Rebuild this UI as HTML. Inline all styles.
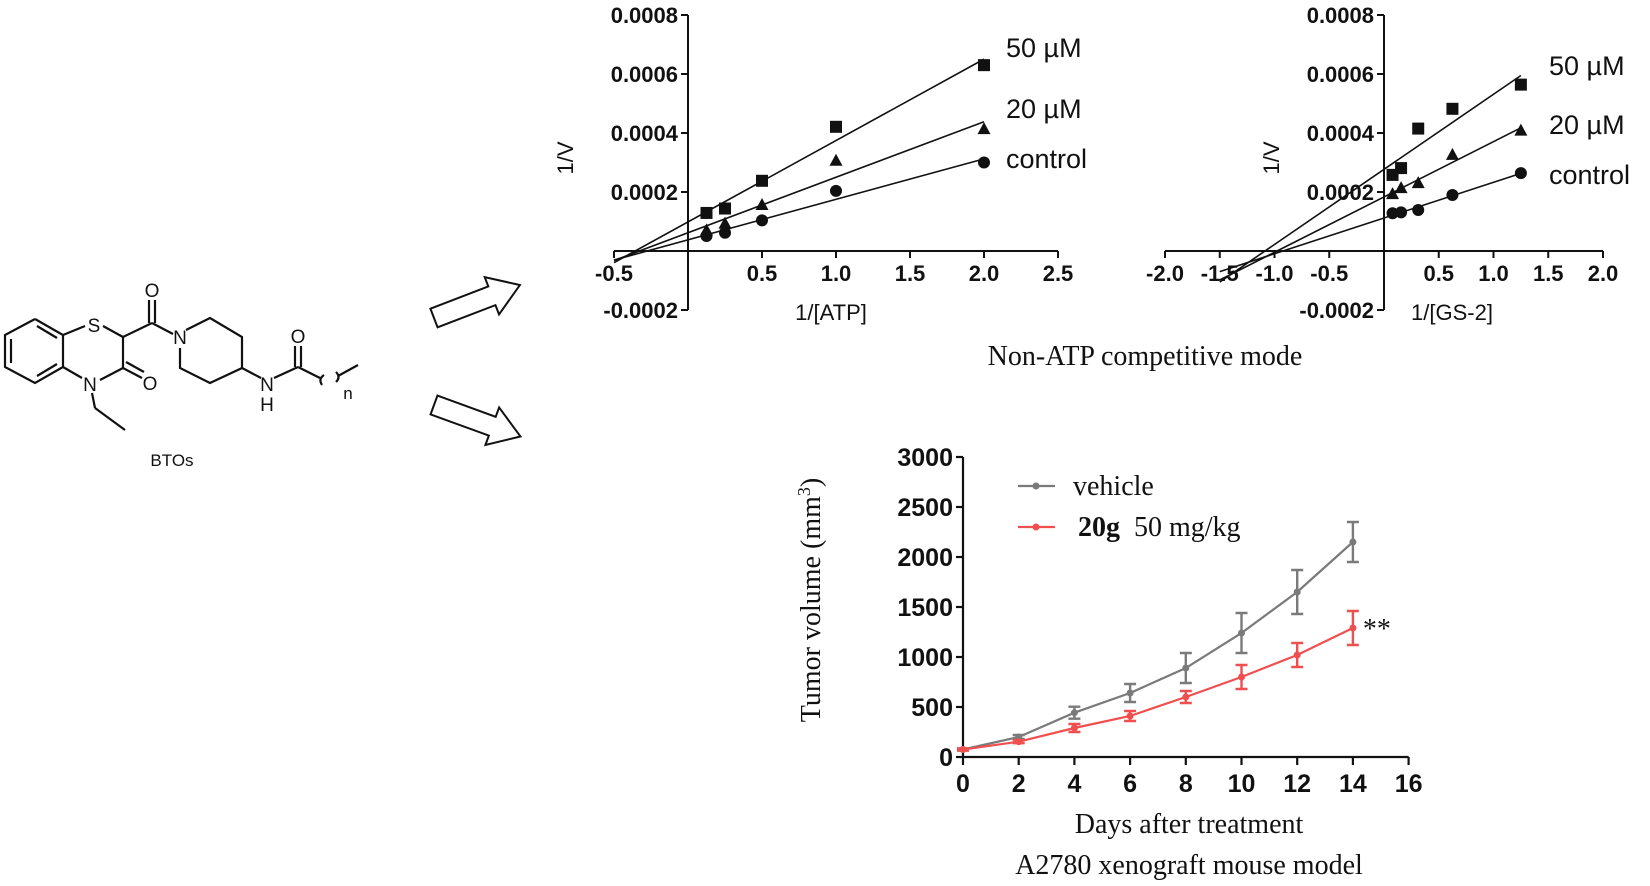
<!DOCTYPE html>
<html><head><meta charset="utf-8"><style>
html,body{margin:0;padding:0;background:#fff}
svg{display:block}
.tk{font-family:"Liberation Sans",Arial,sans-serif;font-weight:bold;font-size:22px;fill:#111}
.lb{font-family:"Liberation Sans",Arial,sans-serif;font-size:22px;fill:#111}
.lg{font-family:"Liberation Sans",Arial,sans-serif;font-size:27px;fill:#111}
.tm{font-family:"Liberation Serif","Times New Roman",serif;font-size:28px;fill:#111}
.at{font-family:"Liberation Sans",Arial,sans-serif;font-size:19px;fill:#111}
</style></head><body>
<svg id="root" width="1650" height="886" viewBox="0 0 1650 886" xmlns="http://www.w3.org/2000/svg">
<g stroke="#111" stroke-width="2.2" fill="none">
  <polyline points="35,319 63,335 63,367 35,383 5,367 5,335 35,319"/>
  <line x1="11" y1="339" x2="11" y2="363"/><line x1="37" y1="326" x2="57" y2="338"/><line x1="37" y1="376" x2="57" y2="364"/>
  <line x1="63" y1="335" x2="85" y2="326"/><line x1="103" y1="326" x2="123" y2="337"/>
  <line x1="123" y1="337" x2="123" y2="368"/><line x1="123" y1="368" x2="100" y2="380"/>
  <line x1="63" y1="367" x2="82" y2="378"/>
  <line x1="123" y1="368" x2="142" y2="378"/><line x1="126" y1="362" x2="144" y2="372"/>
  <line x1="123" y1="337" x2="152" y2="323"/><line x1="149" y1="323" x2="149" y2="300"/><line x1="155" y1="323" x2="155" y2="300"/>
  <line x1="152" y1="323" x2="173" y2="334"/>
  <polyline points="186,330 210,318 242,337 242,368 210,383 180,368 180,348"/>
  <line x1="242" y1="368" x2="261" y2="378"/>
  <line x1="274" y1="378" x2="298" y2="367"/>
  <line x1="295" y1="367" x2="295" y2="346"/><line x1="301" y1="367" x2="301" y2="346"/>
  <line x1="298" y1="367" x2="320" y2="378"/>
  <path d="M322,385 q-4,-6 2,-10"/><path d="M336,372 q5,5 0,10"/>
  <line x1="338" y1="376" x2="358" y2="365"/>
  <line x1="92" y1="393" x2="95" y2="408"/><line x1="95" y1="408" x2="125" y2="430"/>
</g>
<g font-family="Liberation Sans,Arial,sans-serif" font-size="19" fill="#111" text-anchor="middle">
  <text x="94" y="332">S</text><text x="90" y="391">N</text><text x="150" y="390">O</text>
  <text x="152" y="297">O</text><text x="180" y="344">N</text><text x="267" y="391">N</text>
  <text x="267" y="411">H</text><text x="298" y="343">O</text><text x="348" y="399" font-size="17">n</text>
  <text x="172" y="466" font-size="17">BTOs</text>
</g>
<g transform="translate(434,318) rotate(-21)">
  <polygon points="0,-10 62,-10 62,-20 92,0 62,20 62,10 0,10" fill="#fff" stroke="#111" stroke-width="2"/>
</g>
<g transform="translate(434,405) rotate(20)">
  <polygon points="0,-10 62,-10 62,-20 92,0 62,20 62,10 0,10" fill="#fff" stroke="#111" stroke-width="2"/>
</g>
<g id="c1"></g>
<g id="c2"></g>
<text class="tm" x="1145" y="365" text-anchor="middle">Non-ATP competitive mode</text>
<g id="c3"></g>
</svg>
<script>
// ---- Chart 1 data (1/[ATP]) ----
const atpX = [0.125, 0.25, 0.5, 1.0, 2.0];
const atp50 = [0.000129, 0.000144, 0.000238, 0.000421, 0.00063];
const atp20 = [0.00007, 0.000093, 0.000156, 0.000306, 0.000413];
const atpCtrl = [0.000051, 0.000062, 0.000104, 0.000204, 0.0003];
const atpXTicks = [-0.5, 0.5, 1.0, 1.5, 2.0, 2.5];
const atpXTickLabels = ["-0.5", "0.5", "1.0", "1.5", "2.0", "2.5"];
// ---- Chart 2 data (1/[GS-2]) ----
const gsX = [0.078, 0.156, 0.3125, 0.625, 1.25];
const gs50 = [0.000258, 0.000281, 0.000415, 0.000482, 0.000564];
const gs20 = [0.000193, 0.000213, 0.00023, 0.000326, 0.000408];
const gsCtrl = [0.000128, 0.000131, 0.000139, 0.00019, 0.000264];
const gsXTicks = [-2.0, -1.5, -1.0, -0.5, 0.5, 1.0, 1.5, 2.0];
const gsXTickLabels = ["-2.0", "-1.5", "-1.0", "-0.5", "0.5", "1.0", "1.5", "2.0"];
const vYTicks = [-0.0002, 0.0002, 0.0004, 0.0006, 0.0008];
const vYTickLabels = ["-0.0002", "0.0002", "0.0004", "0.0006", "0.0008"];
const seriesNames = ["50 µM", "20 µM", "control"];
// ---- Chart 3 data ----
const days = [0, 2, 4, 6, 8, 10, 12, 14];
const vehicleMean = [75, 200, 443, 640, 890, 1240, 1650, 2150];
const vehicleErr = [10, 20, 60, 90, 150, 200, 220, 200];
const drugMean = [75, 153, 290, 410, 600, 800, 1020, 1290];
const drugErr = [10, 15, 40, 50, 60, 120, 120, 170];
const dayTicks = [0, 2, 4, 6, 8, 10, 12, 14, 16];
const volTicks = [0, 500, 1000, 1500, 2000, 2500, 3000];

const NS = "http://www.w3.org/2000/svg";
function mk(parent, tag, attrs, txt) {
  const e = document.createElementNS(NS, tag);
  for (const k in attrs) e.setAttribute(k, attrs[k]);
  if (txt !== undefined) e.textContent = txt;
  parent.appendChild(e);
  return e;
}
function fit(xs, ys) {
  const n = xs.length, mx = xs.reduce((a, b) => a + b) / n, my = ys.reduce((a, b) => a + b) / n;
  let sxy = 0, sxx = 0;
  for (let i = 0; i < n; i++) { sxy += (xs[i] - mx) * (ys[i] - my); sxx += (xs[i] - mx) ** 2; }
  const m = sxy / sxx; return [m, my - m * mx];
}
function marker(g, kind, x, y) {
  let e;
  if (kind === 0) e = mk(g, "rect", {x: x - 6, y: y - 6, width: 12, height: 12, fill: "#111"});
  else if (kind === 1) e = mk(g, "polygon", {points: `${x},${y - 7} ${x + 6.5},${y + 5} ${x - 6.5},${y + 5}`, fill: "#111"});
  else e = mk(g, "circle", {cx: x, cy: y, r: 6, fill: "#111"});
  return e;
}
function lbChart(id, cfg) {
  const g = document.getElementById(id);
  const X = v => cfg.x0 + v * cfg.xs;
  const Y = v => cfg.y0 - v * cfg.ys;
  const ax = mk(g, "g", {stroke: "#111", "stroke-width": 2, fill: "none"});
  
  
  mk(ax, "line", {x1: X(cfg.xmin), y1: Y(0), x2: X(cfg.xmax), y2: Y(0)});
  mk(ax, "line", {x1: X(0), y1: Y(-0.0002), x2: X(0), y2: Y(0.0008)});
  cfg.xt.forEach((t, i) => {
    mk(ax, "line", {x1: X(t), y1: Y(0), x2: X(t), y2: Y(0) + 7});
    const tl = mk(g, "text", {class: "tk", x: X(t), y: Y(0) + 30, "text-anchor": "middle"}, cfg.xl[i]);
    
    
  });
  vYTicks.forEach((t, i) => {
    mk(ax, "line", {x1: X(0) - 7, y1: Y(t), x2: X(0), y2: Y(t)});
    const tl = mk(g, "text", {class: "tk", x: X(0) - 10, y: Y(t) + 8, "text-anchor": "end"}, vYTickLabels[i]);
    
    
  });
  const yt = mk(g, "text", {class: "lb", x: cfg.ytx, y: cfg.yty, "text-anchor": "middle", transform: `rotate(-90 ${cfg.ytx} ${cfg.yty})`}, "1/V");
  
  
  const xt = mk(g, "text", {class: "lb", x: cfg.xtx, y: cfg.xty, "text-anchor": "middle"}, cfg.xtitle);
  
  
  cfg.series.forEach((ys, s) => {
    const sg = mk(g, "g", {});
    
    
    const [m, b] = fit(cfg.xs_, ys);
    const xEnd = cfg.xs_[cfg.xs_.length - 1];
    const ln = mk(sg, "line", {x1: X(cfg.lineStart), y1: Y(m * cfg.lineStart + b), x2: X(xEnd), y2: Y(m * xEnd + b), stroke: "#111", "stroke-width": 1.6});
    
    
    cfg.xs_.forEach((xv, i) => {
      const p = marker(sg, s, X(xv), Y(ys[i]));
      
      
    });
    const lt = mk(g, "text", {class: "lg", x: cfg.lgx, y: cfg.lgy[s] + 10}, seriesNames[s]);
    
    
  });
}
lbChart("c1", {x0: 688, xs: 148, y0: 251, ys: 295000, xmin: -0.5, xmax: 2.5, xt: atpXTicks, xl: atpXTickLabels,
  xs_: atpX, series: [atp50, atp20, atpCtrl], lineStart: -0.5, ytx: 573, yty: 158, xtx: 831, xty: 320, xtitle: "1/[ATP]",
  lgx: 1006, lgy: [47, 108, 158]});
lbChart("c2", {x0: 1384, xs: 109.5, y0: 251, ys: 295000, xmin: -2.0, xmax: 2.0, xt: gsXTicks, xl: gsXTickLabels,
  xs_: gsX, series: [gs50, gs20, gsCtrl], lineStart: -1.5, ytx: 1279, yty: 158, xtx: 1452, xty: 320, xtitle: "1/[GS-2]",
  lgx: 1549, lgy: [65, 124, 174]});

// Chart 3
(function () {
  const g = document.getElementById("c3");
  const X = d => 963 + d * 27.85;
  const Y = v => 757 - v * 0.1;
  const ax = mk(g, "g", {stroke: "#111", "stroke-width": 2.2, fill: "none"});
  
  
  mk(ax, "line", {x1: X(0), y1: Y(0), x2: X(16), y2: Y(0)});
  mk(ax, "line", {x1: X(0), y1: Y(0), x2: X(0), y2: Y(3000)});
  dayTicks.forEach(t => {
    mk(ax, "line", {x1: X(t), y1: Y(0), x2: X(t), y2: Y(0) + 8});
    const tl = mk(g, "text", {class: "tk", "font-size": 25, style: "font-size:25px", x: X(t), y: Y(0) + 35, "text-anchor": "middle"}, String(t));
    
    
  });
  volTicks.forEach(t => {
    mk(ax, "line", {x1: X(0) - 7, y1: Y(t), x2: X(0), y2: Y(t)});
    const tl = mk(g, "text", {class: "tk", style: "font-size:25px", x: X(0) - 10, y: Y(t) + 9, "text-anchor": "end"}, String(t));
    
    
  });
  function series(mean, err, color, name) {
    const sg = mk(g, "g", {});
    
    
    const pl = mk(sg, "polyline", {points: days.map((d, i) => X(d) + "," + Y(mean[i])).join(" "), fill: "none", stroke: color, "stroke-width": 2.2});
    
    
    days.forEach((d, i) => {
      const eb = mk(sg, "path", {d: `M${X(d)},${Y(mean[i] + err[i])}V${Y(mean[i] - err[i])}M${X(d) - 6},${Y(mean[i] + err[i])}h12M${X(d) - 6},${Y(mean[i] - err[i])}h12`, stroke: color, "stroke-width": 2.4, fill: "none"});
      
      
      const p = mk(sg, "circle", {cx: X(d), cy: Y(mean[i]), r: 3.5, fill: color});
      
      
    });
  }
  series(vehicleMean, vehicleErr, "#7a7a7a", "vehicle-series");
  series(drugMean, drugErr, "#f04f4f", "drug-20g-series");
  const st = mk(g, "text", {class: "tm", x: X(14) + 10, y: Y(drugMean[7]) + 10}, "**");
  
  
  const yt = mk(g, "text", {class: "tm", x: 820, y: 600, "text-anchor": "middle", transform: "rotate(-90 820 600)"});
  
  
  yt.innerHTML = 'Tumor volume (mm<tspan dy="-10" font-size="18">3</tspan><tspan dy="10">)</tspan>';
  const xt = mk(g, "text", {class: "tm", x: 1189, y: 833, "text-anchor": "middle"}, "Days after treatment");
  
  
  const cap = mk(g, "text", {class: "tm", x: 1189, y: 874, "text-anchor": "middle"}, "A2780 xenograft mouse model");
  
  
  const lg = mk(g, "g", {});
  
  
  const l1 = mk(lg, "g", {});
  
  
  mk(l1, "line", {x1: 1018, y1: 486, x2: 1055, y2: 486, stroke: "#7a7a7a", "stroke-width": 2.2});
  mk(l1, "circle", {cx: 1036, cy: 486, r: 3.5, fill: "#7a7a7a"});
  mk(l1, "text", {class: "tm", x: 1073, y: 495}, "vehicle");
  const l2 = mk(lg, "g", {});
  
  
  mk(l2, "line", {x1: 1018, y1: 527, x2: 1055, y2: 527, stroke: "#f04f4f", "stroke-width": 2.2});
  mk(l2, "circle", {cx: 1036, cy: 527, r: 3.5, fill: "#f04f4f"});
  mk(l2, "text", {class: "tm", x: 1078, y: 536, "font-weight": "bold", style: "font-weight:bold"}, "20g");
  mk(l2, "text", {class: "tm", x: 1134, y: 536}, "50 mg/kg");
})();
</script>
</body></html>
